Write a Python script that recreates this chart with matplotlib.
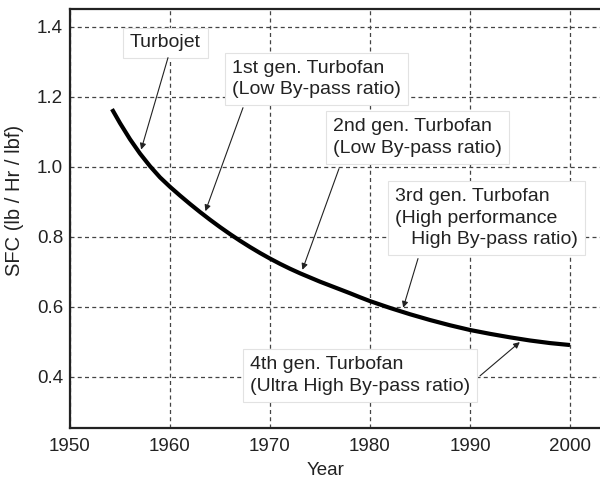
import numpy as np
import matplotlib
matplotlib.use('Agg')
import matplotlib.pyplot as plt

plt.rcParams['font.family'] = ['Liberation Sans', 'DejaVu Sans']

# SFC trend
years = [1954.2, 1955, 1956, 1957, 1958, 1959, 1960, 1961, 1962, 1963, 1964, 1965,
         1966, 1967, 1968, 1969, 1970, 1971, 1972, 1973, 1974, 1975, 1976, 1977,
         1978, 1979, 1980, 1982, 1984, 1986, 1988, 1990, 1992, 1994, 1996, 1998, 2000]
sfc = [1.165, 1.125, 1.079, 1.038, 1.002, 0.970, 0.943, 0.918, 0.894, 0.871, 0.849, 0.828,
       0.808, 0.789, 0.771, 0.754, 0.738, 0.723, 0.709, 0.696, 0.684, 0.672, 0.661, 0.650,
       0.639, 0.6275, 0.6165, 0.597, 0.579, 0.5625, 0.5475, 0.534, 0.523, 0.513, 0.504, 0.4966, 0.491]

labels = ['Turbojet',
          '1st gen. Turbofan\n(Low By-pass ratio)',
          '2nd gen. Turbofan\n(Low By-pass ratio)',
          '3rd gen. Turbofan\n(High performance\n   High By-pass ratio)',
          '4th gen. Turbofan\n(Ultra High By-pass ratio)']
label_year = [1957.0, 1963.4, 1973.1, 1983.2, 1995.3]   # where each arrow points on the curve
text_xy = [(1956.0, 1.354), (1966.2, 1.251), (1976.3, 1.084), (1982.5, 0.853), (1968.0, 0.404)]
arrow_from = [(1959.8, 1.312), (1967.3, 1.169), (1976.9, 0.995), (1984.8, 0.738), (1991.0, 0.403)]

xticks = [1950, 1960, 1970, 1980, 1990, 2000]
yticks = [0.4, 0.6, 0.8, 1.0, 1.2, 1.4]

fig = plt.figure(figsize=(6, 4.8), dpi=100)
ax = fig.add_axes([70 / 600, 52 / 480, 530 / 600, 419 / 480])

ax.plot(years, sfc, color='black', lw=3, solid_capstyle='butt', solid_joinstyle='round', zorder=3)

ax.set_xlim(1950, 2003)
ax.set_ylim(0.254, 1.451)
ax.set_xticks(xticks)
ax.set_yticks(yticks)
ax.set_yticklabels(['%.1f' % v for v in yticks])
ax.tick_params(length=0, labelsize=13.5, colors='#222222')
ax.tick_params(axis='x', pad=7)
ax.tick_params(axis='y', pad=5)
ax.grid(True, color='#444444', lw=0.9, linestyle=(0, (3.2, 2.6)))
ax.set_axisbelow(True)

for s in ['left', 'bottom', 'top']:
    ax.spines[s].set_linewidth(1.6)
    ax.spines[s].set_color('#222222')
ax.spines['right'].set_visible(False)

ax.set_xlabel('Year', fontsize=13.5, color='#222222')
ax.xaxis.set_label_coords(0.483, -0.081)
ax.set_ylabel('SFC (lb / Hr / lbf)', fontsize=14.5, color='#222222')
ax.yaxis.set_label_coords(-0.086, 0.544)

for lab, yr, (tx, ty), (ax0, ay0) in zip(labels, label_year, text_xy, arrow_from):
    ax.text(tx, ty, lab, fontsize=14, ha='left', va='center', color='#222222',
            linespacing=1.35, zorder=4,
            bbox=dict(boxstyle='square,pad=0.35', fc='white', ec='#e2e2e2', lw=0.8))
    tip = np.interp(yr, years, sfc)
    ax.annotate('', xy=(yr, tip), xytext=(ax0, ay0), zorder=5,
                arrowprops=dict(arrowstyle='-|>', color='#222222', lw=0.8,
                                mutation_scale=9, shrinkA=0, shrinkB=3))

fig.savefig('out.png', dpi=100)
